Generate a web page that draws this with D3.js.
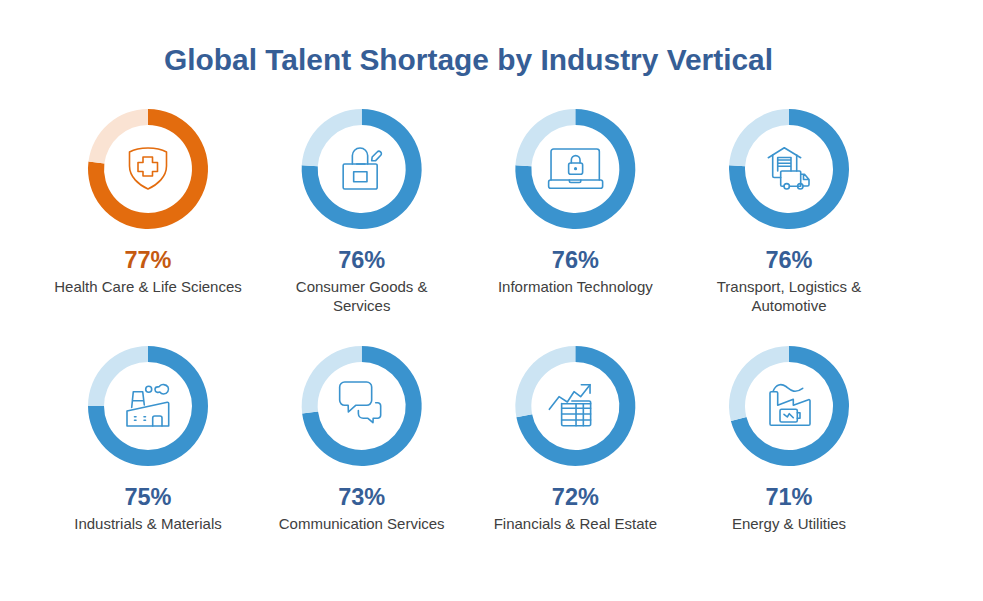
<!DOCTYPE html>
<html>
<head>
<meta charset="utf-8">
<script src="https://cdn.jsdelivr.net/npm/d3@7"></script>
<style>
  html, body { margin: 0; padding: 0; background: #fff; }
  svg { display: block; }
  text { font-family: "Liberation Sans", Arial, sans-serif; }
  .icon * { fill: none; stroke-width: 1.6; stroke-linejoin: round; stroke-linecap: round; }
</style>
</head>
<body>
<script>
// data
const industries = [
  "Health Care & Life Sciences",
  "Consumer Goods & Services",
  "Information Technology",
  "Transport, Logistics & Automotive",
  "Industrials & Materials",
  "Communication Services",
  "Financials & Real Estate",
  "Energy & Utilities",
];
const shortages = [77, 76, 76, 76, 75, 73, 72, 71];
const highlighted = ["Health Care & Life Sciences"];
// where the long labels break
const labelLines = [
  ["Health Care & Life Sciences"],
  ["Consumer Goods &", "Services"],
  ["Information Technology"],
  ["Transport, Logistics &", "Automotive"],
  ["Industrials & Materials"],
  ["Communication Services"],
  ["Financials & Real Estate"],
  ["Energy & Utilities"],
];

// icons, drawn around the middle of each ring
const icons = [
  // shield with cross
  `<path d="M0,-21C-7,-21 -14,-19.5 -18.5,-17L-18.5,-3C-18.5,8 -9,16 0,20C9,16 18.5,8 18.5,-3L18.5,-17C14,-19.5 7,-21 0,-21Z"/>
   <path d="M-5,-12H4.5V-6.5H9.5V2.5H4.5V7H-5V2.5H-10V-6.5H-5Z"/>`,
  // bag and tag
  `<path d="M-17,-5H14a1.5,1.5 0 0 1 1.5,1.5V18.5a1.5,1.5 0 0 1 -1.5,1.5H-17a1.5,1.5 0 0 1 -1.5,-1.5V-3.5a1.5,1.5 0 0 1 1.5,-1.5Z"/>
   <path d="M-9.3,-5V-13.4a7.65,7.65 0 0 1 15.3,0V-5"/>
   <path d="M-5,-5H3.3"/>
   <rect x="-8" y="2.7" width="13.3" height="10"/>
   <path d="M10,-8.2L10.5,-12L15.5,-17a2.4,2.4 0 0 1 3.6,3.2L14,-8.4Z"/>`,
  // laptop with padlock
  `<path d="M-24.3,11V-17.5a2.5,2.5 0 0 1 2.5,-2.5H21.5a2.5,2.5 0 0 1 2.5,2.5V11"/>
   <rect x="-26.7" y="11" width="54" height="8.3" rx="2"/>
   <path d="M-6,11V12a1.5,1.5 0 0 0 1.5,1.5H4a1.5,1.5 0 0 0 1.5,-1.5V11"/>
   <rect x="-6.7" y="-6" width="14" height="11.3" rx="2"/>
   <path d="M-4,-6V-9a4.35,4.35 0 0 1 8.7,0V-6"/>
   <circle cx="0.2" cy="-0.3" r="0.8"/>`,
  // warehouse and truck
  `<path d="M-20.7,-11.3L-4.7,-21.3L11.7,-11.3"/>
   <path d="M-16.3,-14V7a1.5,1.5 0 0 0 1.5,1.5H-8.3M7.7,-14V2"/>
   <path d="M-11.3,2V-11.5H2V2M-11.3,-9H2M-11.3,-5.7H2M-11.3,-2.7H2"/>
   <path d="M-5,17.3H-7a1.3,1.3 0 0 1 -1.3,-1.3V3.3a1.3,1.3 0 0 1 1.3,-1.3H10.4a1.3,1.3 0 0 1 1.3,1.3V17.3H8.6M0.4,17.3H8.6"/>
   <path d="M11.7,5.3H15.5L20,10.5V15.5a1.5,1.5 0 0 1 -1.5,1.5H14M14.5,5.5V10.5H20"/>
   <circle cx="-2.3" cy="17.3" r="2.7"/>
   <circle cx="11.3" cy="17.3" r="2.7"/>`,
  // factory with smoke
  `<path d="M-21,20V5L19.3,-3.7a1.2,1.2 0 0 1 1.4,1.2V20Z"/>
   <path d="M-16.3,1.5L-14.7,-14.3H-5.3L-3.7,-1M-15,-5.3H-5"/>
   <path d="M4.7,20V12a2,2 0 0 1 2,-2H12a2,2 0 0 1 2,2V20"/>
   <path d="M-13.5,10.7H-12M-4,10.7H-2.5M-13.5,14.3H-12M-4,14.3H-2.5"/>
   <circle cx="0.7" cy="-16.7" r="3"/>
   <path d="M9.7,-19.1C11,-19.1 11.5,-18.9 12,-20.2C13.5,-22 18,-22 20,-19C21.5,-16 19.5,-12 15.5,-12C13.5,-12 12.5,-13 11.8,-14C10.5,-13.5 7,-13.2 7,-16.5C7,-18 8.3,-19.1 9.7,-19.1Z"/>`,
  // speech bubbles
  `<path d="M-17,-24H5a5,5 0 0 1 5,5V-5.7a5,5 0 0 1 -5,5H-6L-13.3,6L-13.5,-0.7H-17a5,5 0 0 1 -5,-5V-19a5,5 0 0 1 5,-5Z"/>
   <path d="M14,-3.3H16a3,3 0 0 1 3,3V9.3a3,3 0 0 1 -3,3H11.5L11.3,16.7L6.3,12.3H1.5C-1,12.3 -3.3,10.5 -3.3,7.5V4.5"/>`,
  // trend arrow over table
  `<path d="M-26,3.3L-16.3,-9.3L-8,-4L-1.3,-14.3L5.3,-9.3L14.7,-21.3"/>
   <path d="M6,-21.3H14.7V-12.7"/>
   <path d="M-3.5,-5H13.8a1.5,1.5 0 0 1 1.5,1.5V18.2a1.5,1.5 0 0 1 -1.5,1.5H-12.2a1.5,1.5 0 0 1 -1.5,-1.5V-2.5"/>
   <path d="M-13.7,-2.2H15.3M-13.7,2.3H15.3M-13.7,8H15.3M-13.7,14H15.3M0.7,-2.2V19.7M8,-2.2V19.7"/>`,
  // power plant with battery
  `<path d="M-19,18V-13a1.3,1.3 0 0 1 1.3,-1.3H-12.6a1.3,1.3 0 0 1 1.3,1.3V-0.7L4.3,-6.7V-0.7L19.5,-6.2a1,1 0 0 1 1.5,1V18a1.3,1.3 0 0 1 -1.3,1.3H-17.7A1.3,1.3 0 0 1 -19,18Z"/>
   <path d="M-15.7,-15.3C-13,-21.5 -8,-23 -3,-19.5C1,-16.5 5,-11.5 13.7,-17.7"/>
   <rect x="-9" y="3.3" width="17.3" height="12.7" rx="1.5"/>
   <path d="M8.3,6.7H11V12.3H8.3"/>
   <path d="M-5,8.3L-1.7,11L0.3,7.7L4.3,11.7"/>`,
];

let width = 983;
let height = 601;

const outerRadius = 60;
const innerRadius = 44;

const blue = "#3a93ce", lightBlue = "#cce4f3";
const orange = "#e36c0e", lightOrange = "#fae3d3";

let svg = d3.select("body")
  .append("svg")
  .attr("width", width)
  .attr("height", height);

svg.append("text")
  .attr("x", 468.5)
  .attr("y", 70)
  .attr("text-anchor", "middle")
  .attr("font-size", 29.9)
  .attr("font-weight", "bold")
  .attr("fill", "#365e96")
  .text("Global Talent Shortage by Industry Vertical");

// 4 x 2 grid of rings
let x = d3.scalePoint().domain(d3.range(4)).range([148, 789]);
let y = d3.scalePoint().domain(d3.range(2)).range([169, 406]);

let pie = d3.pie().sort(null);
let arc = d3.arc().innerRadius(innerRadius).outerRadius(outerRadius);

industries.forEach((name, i) => {
  const hot = highlighted.includes(name);
  const g = svg.append("g")
    .attr("transform", `translate(${x(i % 4)},${y(Math.floor(i / 4))})`);

  g.selectAll("path.slice")
    .data(pie([shortages[i], 100 - shortages[i]]))
    .enter()
    .append("path")
    .attr("class", "slice")
    .attr("d", arc)
    .attr("fill", (d, j) => j === 0 ? (hot ? orange : blue) : (hot ? lightOrange : lightBlue));

  g.append("g")
    .attr("class", "icon")
    .html(icons[i])
    .selectAll("*")
    .attr("stroke", hot ? orange : blue);

  g.append("text")
    .attr("y", 99)
    .attr("text-anchor", "middle")
    .attr("font-size", 23.5)
    .attr("font-weight", "bold")
    .attr("fill", hot ? "#c55a11" : "#365e96")
    .text(shortages[i] + "%");

  g.selectAll("text.label")
    .data(labelLines[i])
    .enter()
    .append("text")
    .attr("class", "label")
    .attr("y", (d, j) => 123 + j * 19)
    .attr("text-anchor", "middle")
    .attr("font-size", 15)
    .attr("fill", "#404040")
    .text(d => d);
});
</script>
</body>
</html>
